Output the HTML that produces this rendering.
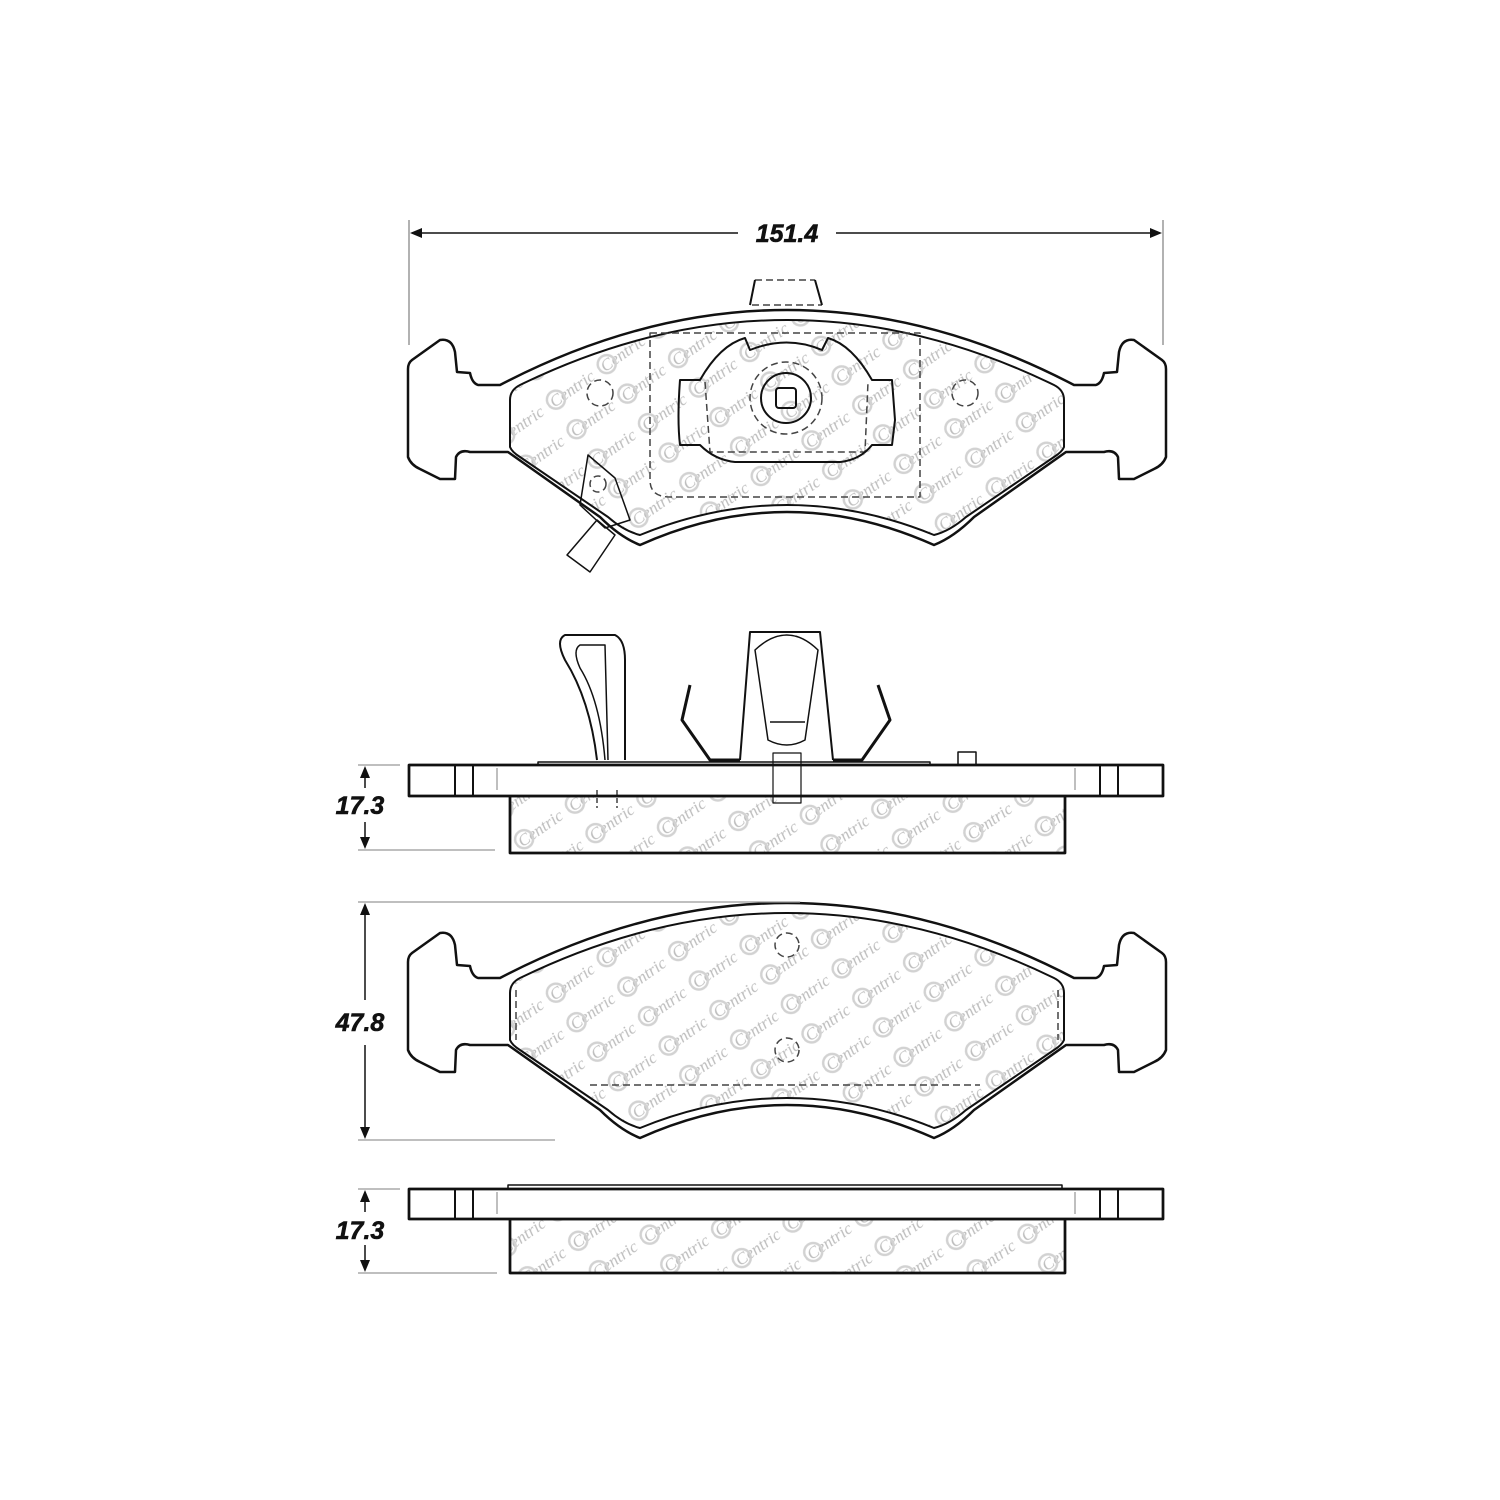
<!DOCTYPE html>
<html><head><meta charset="utf-8"><style>html,body{margin:0;padding:0;background:#fff}svg{display:block}</style></head>
<body>
<svg width="1500" height="1500" viewBox="0 0 1500 1500" xmlns="http://www.w3.org/2000/svg">
<defs>
<pattern id="wm" width="62" height="36" patternUnits="userSpaceOnUse" patternTransform="rotate(-35)">
<text x="4" y="22" font-family="Liberation Serif, serif" font-style="italic" font-size="17" fill="#bdbdbd">Centric</text>
<circle cx="10" cy="16" r="9" fill="none" stroke="#d2d2d2" stroke-width="2.5"/>
</pattern>
<path id="back" d="M408,962 Q408,956 412,953 L440,933 Q452,931 455,945 L457,965 L470,966 Q472,976 478,978 L500,978 Q787,828 1074,978 L1096,978 Q1102,976 1104,966 L1117,965 L1119,945 Q1122,931 1134,933 L1162,953 Q1166,956 1166,962 L1166,1050 Q1163,1058 1154,1062 L1134,1072 L1119,1072 L1118,1050 Q1114,1042 1104,1045 L1066,1045 L974,1110 Q954,1130 934,1138 Q787,1072 640,1138 Q620,1130 600,1110 L508,1045 L470,1045 Q460,1042 456,1050 L455,1072 L440,1072 L420,1062 Q411,1058 408,1050 Z"/>
<path id="fric" d="M510,993 Q510,983 520,978 Q787,848 1054,978 Q1064,983 1064,993 L1064,1040 Q1062,1045 1054,1050 L966,1110 Q950,1124 934,1128 Q787,1068 640,1128 Q624,1124 608,1110 L520,1050 Q512,1045 510,1040 Z"/>
</defs>
<g fill="none" stroke="#111" stroke-width="2.5" stroke-linejoin="round">
<line x1="409" y1="220" x2="409" y2="345" stroke="#999" stroke-width="1.5"/>
<line x1="1163" y1="220" x2="1163" y2="345" stroke="#999" stroke-width="1.5"/>
<line x1="412" y1="233" x2="738" y2="233" stroke-width="1.5"/>
<line x1="836" y1="233" x2="1160" y2="233" stroke-width="1.5"/>
<path d="M410,233 l12,-5 v10z M1162,233 l-12,-5 v10z" fill="#111" stroke="none"/>

<g transform="translate(0,-593)">
<use href="#fric" fill="url(#wm)" stroke="#111" stroke-width="2"/>
<use href="#back" stroke-width="2.5"/>
</g>
<g stroke-width="1.5" stroke-dasharray="7,4" stroke="#444">
<path d="M650,333 L920,333 L920,497 L670,497 Q650,497 650,480 Z"/>
<circle cx="600" cy="393" r="13"/><circle cx="965" cy="393" r="13"/>
<circle cx="598" cy="484" r="8"/>
<path d="M755,280 L815,280 M752,305 L822,305"/>
<circle cx="786" cy="398" r="36"/>
<path d="M705,382 L710,452 L865,452 L868,382"/>
</g>
<g stroke-width="2">
<path d="M750,305 L755,280 M822,305 L815,280"/>
<path d="M680,380 L700,380 Q720,345 745,338 L750,350 Q787,335 822,350 L828,338 Q852,345 872,380 L892,380 L895,420 L892,445 L872,445 Q860,460 840,462 L735,462 Q715,460 700,445 L680,445 Q677,420 680,380Z"/>
<circle cx="786" cy="398" r="25"/>
<rect x="776" y="388" width="20" height="20" rx="3"/>
<path d="M588,455 L615,478 L630,520 L605,528 L580,505Z" stroke-width="1.5"/>
<path d="M597,520 L615,535 L590,572 L567,555Z" stroke-width="1.5"/>
</g>

<rect x="510" y="796" width="555" height="57" fill="url(#wm)"/>
<rect x="409" y="765" width="754" height="31" fill="#fff"/>
<path d="M455,765 V796 M473,765 V796 M1100,765 V796 M1118,765 V796" stroke-width="2"/>
<path d="M497,768 V790 M1075,768 V790" stroke="#aaa" stroke-width="1.5"/>
<path d="M538,765 L538,762 L930,762 L930,765" stroke-width="1.5"/>
<rect x="958" y="752" width="18" height="13" stroke-width="1.5"/>
<path d="M597,760 Q590,700 565,660 Q555,640 565,635 L615,635 Q625,640 625,660 L625,760" stroke-width="2"/>
<path d="M605,760 Q600,700 580,668 Q572,650 580,645 L605,645 L608,760" stroke-width="1.5"/>
<path d="M740,760 L750,632 L820,632 L833,760" stroke-width="2"/>
<path d="M768,740 L755,650 Q787,620 818,650 L805,740 Q787,750 768,740Z" stroke-width="1.5"/>
<path d="M770,722 H805" stroke-width="1.5"/>
<path d="M690,685 L682,720 L710,760 L740,760 M878,685 L890,720 L862,760 L833,760" stroke-width="3"/>
<rect x="773" y="753" width="28" height="50" stroke-width="1.2"/>
<path d="M597,790 V808 M617,790 V808" stroke-dasharray="5,3" stroke-width="1.2"/>
<path d="M409,765 H1163 V796 H409Z M510,796 V853 H1065 V796" stroke-width="2.5"/>

<line x1="358" y1="765" x2="400" y2="765" stroke="#999" stroke-width="1.2"/>
<line x1="358" y1="850" x2="495" y2="850" stroke="#999" stroke-width="1.2"/>
<path d="M365,769 V788 M365,822 V846" stroke-width="1.5"/>
<path d="M365,766 l-5,12 h10z M365,849 l-5,-12 h10z" fill="#111" stroke="none"/>

<use href="#fric" fill="url(#wm)" stroke="#111" stroke-width="2"/>
<use href="#back"/>
<g stroke="#444" stroke-width="1.5" stroke-dasharray="7,4">
<line x1="590" y1="1085" x2="980" y2="1085"/>
<circle cx="787" cy="945" r="12"/><circle cx="787" cy="1050" r="12"/>
<line x1="516" y1="990" x2="516" y2="1040"/><line x1="1058" y1="990" x2="1058" y2="1040"/>
</g>
<line x1="358" y1="902" x2="800" y2="902" stroke="#999" stroke-width="1.2"/>
<line x1="358" y1="1140" x2="555" y2="1140" stroke="#999" stroke-width="1.2"/>
<path d="M365,906 V1000 M365,1045 V1136" stroke-width="1.5"/>
<path d="M365,903 l-5,12 h10z M365,1139 l-5,-12 h10z" fill="#111" stroke="none"/>

<rect x="510" y="1219" width="555" height="54" fill="url(#wm)"/>
<rect x="409" y="1189" width="754" height="30" fill="#fff"/>
<path d="M455,1189 V1219 M473,1189 V1219 M1100,1189 V1219 M1118,1189 V1219" stroke-width="2"/>
<path d="M497,1192 V1214 M1075,1192 V1214" stroke="#aaa" stroke-width="1.5"/>
<path d="M508,1189 L508,1185 L1062,1185 L1062,1189" stroke-width="1.5"/>
<path d="M409,1189 H1163 V1219 H409Z M510,1219 V1273 H1065 V1219" stroke-width="2.5"/>
<line x1="358" y1="1189" x2="400" y2="1189" stroke="#999" stroke-width="1.2"/>
<line x1="358" y1="1273" x2="497" y2="1273" stroke="#999" stroke-width="1.2"/>
<path d="M365,1193 V1212 M365,1245 V1269" stroke-width="1.5"/>
<path d="M365,1190 l-5,12 h10z M365,1272 l-5,-12 h10z" fill="#111" stroke="none"/>
</g>
<g font-family="Liberation Sans, sans-serif" font-weight="bold" font-style="italic" font-size="25" fill="#111" text-anchor="middle" stroke="#111" stroke-width="0.6">
<text x="787" y="242">151.4</text>
<text x="360" y="814">17.3</text>
<text x="360" y="1031">47.8</text>
<text x="360" y="1239">17.3</text>
</g>
</svg>
</body></html>
